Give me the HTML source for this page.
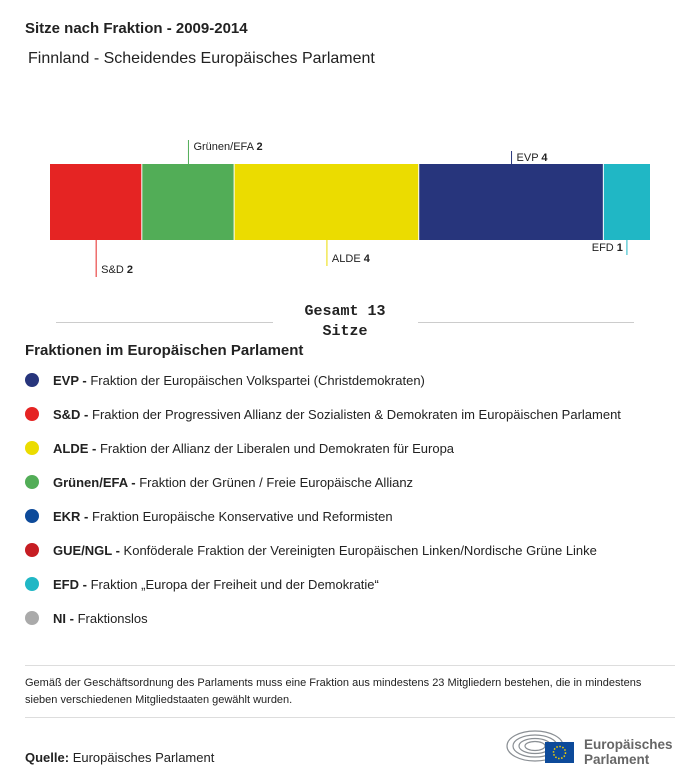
<!DOCTYPE html>
<html><head><meta charset="utf-8"><style>
body{margin:0;width:700px;height:784px;background:#fff;font-family:"Liberation Sans",sans-serif;color:#222;position:relative;overflow:hidden}
.abs{position:absolute}
.leg{position:absolute;left:25px;font-size:13px;white-space:nowrap}
.leg i{display:inline-block;width:14px;height:14px;border-radius:50%;vertical-align:-2px;margin-right:14px}
</style></head><body>
<div class="abs" style="left:25px;top:20px;font-size:15px;font-weight:bold">Sitze nach Fraktion - 2009-2014</div>
<div class="abs" style="left:28px;top:50px;font-size:16px">Finnland - Scheidendes Europäisches Parlament</div>
<svg id="chart" class="abs" style="left:0;top:0" width="700" height="345"></svg>
<div class="abs" style="left:270px;top:302px;width:150px;text-align:center;font-family:'Liberation Mono',monospace;font-weight:bold;font-size:15px;line-height:20px">Gesamt 13<br>Sitze</div>
<div class="abs" style="left:56px;top:322px;width:217px;height:1px;background:#ccc"></div>
<div class="abs" style="left:418px;top:322px;width:216px;height:1px;background:#ccc"></div>
<div class="abs" style="left:25px;top:342px;font-size:15px;font-weight:bold">Fraktionen im Europäischen Parlament</div>
<div class="leg" style="top:373px"><i style="background:#27357c"></i><b>EVP - </b>Fraktion der Europäischen Volkspartei (Christdemokraten)</div>
<div class="leg" style="top:407px"><i style="background:#e52423"></i><b>S&amp;D - </b>Fraktion der Progressiven Allianz der Sozialisten &amp; Demokraten im Europäischen Parlament</div>
<div class="leg" style="top:441px"><i style="background:#ebdc00"></i><b>ALDE - </b>Fraktion der Allianz der Liberalen und Demokraten für Europa</div>
<div class="leg" style="top:475px"><i style="background:#52ad57"></i><b>Grünen/EFA - </b>Fraktion der Grünen / Freie Europäische Allianz</div>
<div class="leg" style="top:509px"><i style="background:#0d4a9a"></i><b>EKR - </b>Fraktion Europäische Konservative und Reformisten</div>
<div class="leg" style="top:543px"><i style="background:#c61d23"></i><b>GUE/NGL - </b>Konföderale Fraktion der Vereinigten Europäischen Linken/Nordische Grüne Linke</div>
<div class="leg" style="top:577px"><i style="background:#20b7c5"></i><b>EFD - </b>Fraktion „Europa der Freiheit und der Demokratie“</div>
<div class="leg" style="top:611px"><i style="background:#aaa"></i><b>NI - </b>Fraktionslos</div>
<div class="abs" style="left:25px;top:665px;width:650px;height:1px;background:#ddd"></div>
<div class="abs" style="left:25px;top:675px;width:650px;font-size:11px;line-height:17px">Gemäß der Geschäftsordnung des Parlaments muss eine Fraktion aus mindestens 23 Mitgliedern bestehen, die in mindestens sieben verschiedenen Mitgliedstaaten gewählt wurden.</div>
<div class="abs" style="left:25px;top:717px;width:650px;height:1px;background:#ddd"></div>
<div class="abs" style="left:25px;top:750px;font-size:13px"><b>Quelle:</b> Europäisches Parlament</div>
<svg class="abs" style="left:505px;top:728px" width="175" height="40">
<g fill="none" stroke="#8a8f94" stroke-width="1.2"><ellipse cx="30" cy="18" rx="28" ry="15"/><ellipse cx="30" cy="18" rx="22" ry="11"/><ellipse cx="30" cy="18" rx="16" ry="7.5"/><ellipse cx="30" cy="18" rx="10" ry="4.5"/></g>
<rect x="40" y="14" width="29" height="21" fill="#0d4a9a"/><circle cx="54.5" cy="24.5" r="6" fill="none" stroke="#f3d000" stroke-width="1.5" stroke-dasharray="1.5 1.6"/>
<text x="79" y="21" font-family="Liberation Sans" font-weight="bold" font-size="13.5" fill="#666">Europäisches</text>
<text x="79" y="36" font-family="Liberation Sans" font-weight="bold" font-size="13.5" fill="#666">Parlament</text>
</svg>
<script>
const parties=["S&D","Grünen/EFA","ALDE","EVP","EFD"];
const seats=[2,2,4,4,1];
const colors=["#e52423","#52ad57","#ebdc00","#27357c","#20b7c5"];
const NS="http://www.w3.org/2000/svg",svg=document.getElementById('chart');
const x0=50,x1=650,y0=164,y1=240,total=seats.reduce((a,b)=>a+b,0);
const sx=v=>x0+(x1-x0)*v/total;
const lab=[["down",277,273,"start"],["up",140,150,"start"],["down",266,262,"start"],["up",151,161,"start"],["down",255,251,"end"]];
let acc=0;
seats.forEach((s,i)=>{
 const a=sx(acc),b=sx(acc+s);acc+=s;
 const r=document.createElementNS(NS,'rect');
 
 
 r.setAttribute('x',a);r.setAttribute('y',y0);r.setAttribute('width',b-a-(i<seats.length-1?1:0));r.setAttribute('height',y1-y0);r.setAttribute('fill',colors[i]);
 svg.appendChild(r);
 const cx=(a+b)/2,L=lab[i];
 const l=document.createElementNS(NS,'line');
 
 
 l.setAttribute('x1',cx);l.setAttribute('x2',cx);
 l.setAttribute('y1',L[0]=="up"?y0:y1);l.setAttribute('y2',L[1]);
 l.setAttribute('stroke',colors[i]);l.setAttribute('stroke-width',1);
 svg.appendChild(l);
 const t=document.createElementNS(NS,'text');
 
 
 t.setAttribute('x',L[3]=="end"?cx-4:cx+5);t.setAttribute('y',L[2]);t.setAttribute('text-anchor',L[3]);
 t.setAttribute('font-size','11');t.setAttribute('font-family','Liberation Sans');t.setAttribute('fill','#222');
 t.textContent=parties[i]+' ';
 const bs=document.createElementNS(NS,'tspan');bs.setAttribute('font-weight','bold');bs.textContent=s;t.appendChild(bs);
 svg.appendChild(t);
});
</script>
</body></html>
